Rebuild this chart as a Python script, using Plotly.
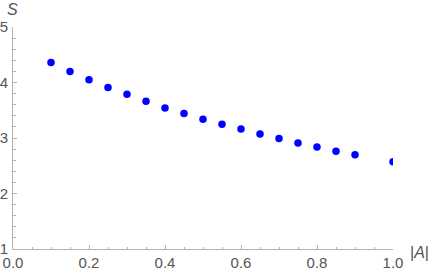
import plotly.graph_objects as go

x_vals = [0.10, 0.15, 0.20, 0.25, 0.30, 0.35, 0.40, 0.45, 0.50, 0.55, 0.60,
          0.65, 0.70, 0.75, 0.80, 0.85, 0.90, 1.00]
s_vals = [4.36, 4.20, 4.05, 3.91, 3.79, 3.66, 3.54, 3.44, 3.34, 3.25, 3.16,
          3.07, 2.99, 2.91, 2.84, 2.76, 2.70, 2.57]

x_ticks = [0.0, 0.2, 0.4, 0.6, 0.8, 1.0]
x_tick_text = ["0.0", "0.2", "0.4", "0.6", "0.8", "1.0"]
y_ticks = [1, 2, 3, 4, 5]
y_tick_text = ["1", "2", "3", "4", "5"]

axis_color = "#b3b3b3"
label_color = "#555555"
font_family = "Liberation Sans, Arial, sans-serif"
tick_font = dict(family=font_family, size=15, color=label_color)

fig = go.Figure()
fig.add_trace(go.Scatter(
    x=x_vals, y=s_vals, mode="markers",
    marker=dict(color="#0000ff", size=7.5, line=dict(width=0)),
    cliponaxis=True, showlegend=False, hoverinfo="skip",
))

fig.update_layout(
    width=436, height=273,
    margin=dict(l=13, r=43, t=27, b=24),
    paper_bgcolor="white", plot_bgcolor="white",
    xaxis=dict(
        range=[0, 1], showgrid=False, zeroline=False,
        showline=True, linecolor=axis_color, linewidth=1,
        tickmode="array", tickvals=x_ticks, ticktext=x_tick_text,
        ticks="inside", ticklen=4, tickcolor=axis_color, tickwidth=1,
        minor=dict(dtick=0.05, tick0=0, ticks="inside", ticklen=2.5,
                   tickcolor=axis_color, tickwidth=1, showgrid=False),
        tickfont=tick_font, automargin=False, ticklabelstandoff=0,
    ),
    yaxis=dict(
        range=[1, 5], showgrid=False, zeroline=False,
        showline=True, linecolor=axis_color, linewidth=1,
        tickmode="array", tickvals=y_ticks, ticktext=y_tick_text,
        ticks="inside", ticklen=4, tickcolor=axis_color, tickwidth=1,
        minor=dict(dtick=0.2, tick0=1, ticks="inside", ticklen=2.5,
                   tickcolor=axis_color, tickwidth=1, showgrid=False),
        tickfont=tick_font, automargin=False, ticklabelstandoff=1,
    ),
    annotations=[
        dict(text="<i>S</i>", xref="paper", yref="paper", x=0, y=1,
             xanchor="center", yanchor="middle",
             xshift=-1, yshift=17.5, showarrow=False,
             font=dict(family=font_family, size=16, color=label_color)),
        dict(text="|<i>A</i>|", xref="paper", yref="paper", x=1, y=0,
             xanchor="center", yanchor="middle",
             xshift=26, yshift=-3.5, showarrow=False,
             font=dict(family=font_family, size=16, color=label_color)),
    ],
)

fig.write_html("out.html",
               config={"displayModeBar": False, "staticPlot": True},
               post_script="document.body.style.margin='0';document.body.style.overflow='hidden';")
